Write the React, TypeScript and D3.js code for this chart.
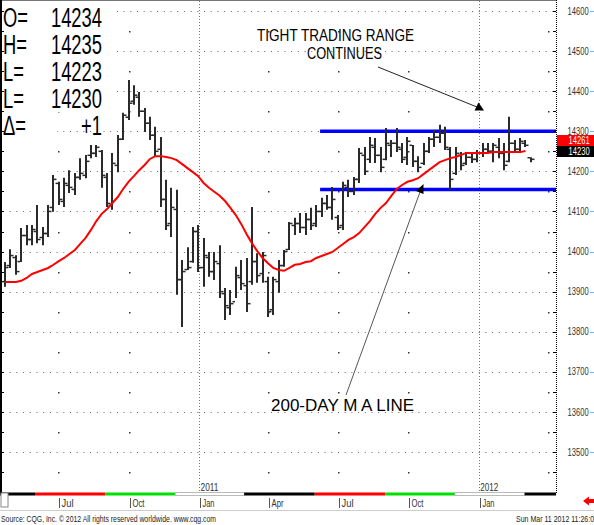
import React from 'react';
import * as d3 from 'd3';

const W = 594;
const H = 525;

// weekly bars starting Friday 2010-04-23, last one is the current (partial) week
const firstWeek = '2010-04-23';
const opens = [13925,13965,13985,13975,14040,14030,14050,14035,14045,14110,
14170,14125,14165,14155,14185,14190,14240,14245,14250,14185,
14115,14215,14280,14335,14375,14385,14350,14320,14290,14255,
14130,14070,14105,13930,13955,13975,14050,13960,13985,13950,
13970,13895,13860,13875,13935,13915,13925,13975,13945,13925,
13855,13925,13965,14005,14065,14070,14060,14080,14070,14100,
14120,14110,14085,14065,14160,14150,14180,14240,14230,14260,
14240,14230,14265,14270,14255,14235,14265,14225,14220,14250,
14280,14285,14295,14255,14195,14240,14220,14235,14230,14245,
14255,14250,14260,14245,14225,14270,14255,14270,14234];
const highs = [13974,14006,13991,14059,14066,14066,14116,14061,14116,14191,
14174,14184,14203,14196,14233,14241,14266,14266,14253,14196,
14246,14291,14346,14428,14415,14398,14358,14336,14311,14286,
14179,14159,14154,13979,14011,14061,14066,14034,13999,13999,
14016,13909,13904,13962,13979,13984,14111,13996,13999,13937,
13937,13979,14004,14074,14084,14096,14096,14109,14116,14134,
14141,14161,14091,14174,14179,14186,14258,14261,14286,14283,
14261,14308,14278,14308,14271,14286,14266,14238,14271,14286,
14303,14316,14311,14261,14261,14248,14248,14248,14253,14271,
14271,14271,14283,14271,14336,14278,14283,14278,14235];
const lows = [13912,13959,13942,13974,14016,14016,14021,14016,14036,14099,
14116,14111,14146,14141,14179,14183,14233,14236,14159,14111,
14104,14198,14278,14328,14366,14336,14298,14278,14236,14111,
14054,14036,13892,13812,13954,13972,13949,13912,13937,13929,
13884,13829,13842,13884,13904,13849,13917,13922,13922,13837,
13842,13897,13962,14004,14041,14046,14041,14054,14061,14086,
14104,14079,14054,14054,14136,14141,14171,14191,14221,14221,
14198,14228,14236,14248,14221,14216,14211,14198,14216,14246,
14261,14271,14253,14154,14191,14203,14216,14221,14223,14236,
14246,14223,14233,14203,14223,14246,14246,14261,14223];
const closes = [13960,13990,13950,14040,14030,14055,14030,14045,14100,14180,
14130,14170,14160,14185,14195,14225,14245,14260,14190,14120,
14220,14280,14340,14370,14390,14350,14320,14290,14250,14130,
14065,14110,13930,13950,13960,14050,13960,13990,13950,13975,
13900,13865,13870,13940,13920,13870,13975,13940,13990,13850,
13930,13965,14000,14070,14070,14060,14080,14065,14100,14120,
14110,14130,14060,14165,14150,14180,14245,14200,14265,14240,
14210,14270,14270,14260,14230,14275,14225,14210,14250,14280,
14285,14295,14260,14180,14245,14215,14235,14230,14245,14255,
14250,14265,14245,14215,14270,14255,14275,14265,14230];
const ma200 = [13924,13924,13924,13927,13934,13944,13949,13954,13959,13967,
13976,13984,13994,14004,14019,14034,14054,14076,14094,14106,
14121,14136,14156,14174,14188,14203,14216,14231,14238,14238,
14236,14233,14228,14218,14208,14198,14188,14171,14159,14149,
14139,14126,14109,14091,14069,14044,14021,14001,13984,13971,
13959,13954,13952,13959,13967,13969,13974,13976,13984,13989,
13994,13999,14009,14019,14029,14036,14046,14061,14076,14094,
14109,14121,14139,14156,14166,14174,14178,14183,14193,14203,
14213,14223,14228,14233,14236,14241,14246,14246,14246,14246,
14246,14248,14248,14248,14248,14248,14248,14251];

const quoteLabels = ['O=', 'H=', 'L=', 'L=', 'Δ='];
const quoteValues = ['14234', '14235', '14223', '14230', '+1'];

const priceTicks = [13500,13600,13700,13800,13900,14000,14100,14200,14300,14400,14500,14600];
const halfTicks = [13450,13550,13650,13750,13850,13950,14050,14150,14250,14350,14450,14550];

const quarterDates = ['2010-07-01','2010-10-01','2011-01-01','2011-04-01','2011-07-01','2011-10-01','2012-01-01'];
const quarterLabels = ['Jul','Oct','Jan','Apr','Jul','Oct','Jan'];
const yearDates = ['2011-01-01','2012-01-01'];
const yearLabels = ['2011','2012'];
const seasonStarts = ['2010-03-01','2010-06-01','2010-09-01','2010-12-01','2011-03-01','2011-06-01','2011-09-01','2011-12-01','2012-03-01','2012-06-01'];

const rangeStart = '2011-06-08';
const rangeLevels = [14300, 14155];
const maLastLabel = '14261';
const lastPriceLabel = '14230';

const parse = (s: string) => new Date(s + 'T00:00:00Z');

export default function App() {
  const x = d3.scaleUtc()
    .domain([parse('2011-01-01'), parse('2012-01-01')])
    .range([199, 478.7]);
  const y = d3.scaleLinear().domain([13500, 14600]).range([452, 11]);

  const left = 1, right = 556, top = 1, bottom = 493;
  const start = parse(firstWeek);
  const dates = opens.map((_, i) => d3.utcDay.offset(start, 7 * i));

  const maLine = d3.line<number>()
    .x((_, i) => x(dates[i]))
    .y((v) => y(v))(ma200);

  const font = "'Liberation Sans', Arial, sans-serif";
  const seasonFill = ['#000', '#ff0000', '#00e000', '#ffffff'];

  const yr = (v: number) => Math.round(y(v)) + 0.5;

  return (
    <svg width={W} height={H} style={{ position: 'absolute', left: 0, top: 0, background: '#fff' }}
      xmlns="http://www.w3.org/2000/svg">
      <rect x={0} y={0} width={W} height={H} fill="#fff" />
      {/* grid */}
      {priceTicks.map((v) => (
        <line key={'g' + v} x1={left + 2} x2={right} y1={yr(v)} y2={yr(v)}
          stroke="#666" strokeWidth={1} strokeDasharray="1,5.7" />
      ))}
      {yearDates.map((d) => (
        <line key={'v' + d} x1={Math.round(x(parse(d))) + 0.5} x2={Math.round(x(parse(d))) + 0.5}
          y1={top} y2={bottom} stroke="#777" strokeWidth={1} strokeDasharray="1,2" />
      ))}
      {quarterDates.filter((d) => !d.endsWith('01-01')).concat(['2012-04-01']).map((d) =>
        halfTicks.map((v) => (
          <rect key={'hd' + d + v} x={Math.round(x(parse(d)))} y={Math.round(y(v))} width={1.5} height={1.5} fill="#333" />
        ))
      )}
      {/* white quote box */}
      <rect x={0} y={0} width={117} height={112} fill="#fff" />
      <rect x={0} y={0} width={57} height={176} fill="#fff" />

      {/* range lines */}
      {rangeLevels.map((v) => (
        <line key={'r' + v} x1={x(parse(rangeStart))} x2={right} y1={y(v)} y2={y(v)}
          stroke="#0000ff" strokeWidth={3.5} />
      ))}

      {/* bars */}
      {dates.map((d, i) => {
        const xi = Math.round(x(d));
        return (
          <g key={'b' + i} stroke="#2a2a2a">
            <line x1={xi} x2={xi} y1={y(highs[i])} y2={y(lows[i])} strokeWidth={2} />
            <line x1={xi - 3.5} x2={xi - 1} y1={y(opens[i])} y2={y(opens[i])} strokeWidth={1.5} />
            <line x1={xi + 1} x2={xi + 3.5} y1={y(closes[i])} y2={y(closes[i])} strokeWidth={1.5} />
          </g>
        );
      })}

      {/* moving average */}
      <path d={maLine || ''} fill="none" stroke="#ff0000" strokeWidth={2} />

      {/* axes frame */}
      <line x1={0} x2={right + 1} y1={0.5} y2={0.5} stroke="#777" />
      <line x1={1} x2={1} y1={0} y2={bottom + 1} stroke="#000" strokeWidth={2} />
      {priceTicks.concat(halfTicks).map((v) => (
        <line key={'lt' + v} x1={2} x2={4} y1={yr(v)} y2={yr(v)} stroke="#000" />
      ))}
      <line x1={right + 0.5} x2={right + 0.5} y1={0} y2={bottom} stroke="#000" strokeDasharray="1,1" />
      {priceTicks.concat(halfTicks).map((v) => (
        <line key={'rt' + v} x1={right - 3} x2={right} y1={yr(v)} y2={yr(v)} stroke="#000" />
      ))}

      {/* right price labels */}
      {priceTicks.map((v) => (
        <g key={'pl' + v}>
          <g transform={`translate(567.5,${y(v) + 3.6}) scale(0.76,1)`}>
            <text x={0} y={0} fontFamily={font} fontSize={10} fill="#333">{String(v)}</text>
          </g>
          <line x1={590} x2={594} y1={yr(v)} y2={yr(v)} stroke="#7ab0ff" strokeWidth={1} />
        </g>
      ))}
      <rect x={557} y={135} width={37} height={11} fill="#ff0000" />
      <g transform="translate(568.5,144) scale(0.76,1)">
        <text x={0} y={0} fontFamily={font} fontSize={10} fill="#fff">{maLastLabel}</text>
      </g>
      <rect x={557} y={146} width={37} height={11} fill="#000" />
      <g transform="translate(568.5,155) scale(0.76,1)">
        <text x={0} y={0} fontFamily={font} fontSize={10} fill="#fff">{lastPriceLabel}</text>
      </g>

      {/* quote panel */}
      <g transform="scale(0.68,1)">
        {quoteLabels.map((l, i) => (
          <g key={'q' + i}>
            <text x={4.4} y={27 + i * 27} fontFamily={font} fontSize={27} fill="#000">{l}</text>
            <text x={150} y={27 + i * 27} fontFamily={font} fontSize={27} fill="#000" textAnchor="end">{quoteValues[i]}</text>
          </g>
        ))}
      </g>

      {/* season band */}
      {seasonStarts.slice(0, -1).map((s, i) => {
        const x0 = Math.max(0, x(parse(s)));
        const x1 = Math.min(right, x(parse(seasonStarts[i + 1])));
        if (x1 <= x0) return null;
        const f = seasonFill[i % 4];
        return (
          <rect key={'s' + s} x={x0} y={492.5} width={x1 - x0} height={3}
            fill={f} stroke={f === '#ffffff' ? '#aaa' : 'none'} strokeWidth={0.8} />
        );
      })}
      <rect x={1} y={493} width={7} height={14} fill="#fff" stroke="#888" strokeWidth={1} />

      {/* year labels */}
      {yearDates.map((d, i) => (
        <text key={'y' + d} x={x(parse(d)) + 1.5} y={491} fontFamily={font} fontSize={10} fill="#333"
          textLength={18} lengthAdjust="spacingAndGlyphs">{yearLabels[i]}</text>
      ))}
      {/* quarter labels */}
      {quarterDates.map((d, i) => {
        const xq = Math.round(x(parse(d))) + 1.5;
        return (
          <g key={'ql' + i}>
            <line x1={xq} x2={xq} y1={498} y2={508} stroke="#555" />
            <text x={xq + 2} y={507} fontFamily={font} fontSize={10.5} fill="#333"
              textLength={12} lengthAdjust="spacingAndGlyphs">{quarterLabels[i]}</text>
          </g>
        );
      })}

      {/* red scroll arrow */}
      <path d="M583,501 L589,496.5 L589,499 L594,499 L594,503 L589,503 L589,505.5 Z" fill="#ff0000" />

      {/* footer */}
      <line x1={0} x2={W} y1={510.5} y2={510.5} stroke="#ccc" />
      <text x={1} y={522} fontFamily={font} fontSize={9.5} fill="#222"
        textLength={215} lengthAdjust="spacingAndGlyphs">Source: CQG, Inc. © 2012 All rights reserved worldwide. www.cqg.com</text>
      <text x={516} y={522} fontFamily={font} fontSize={9.5} fill="#222"
        textLength={82} lengthAdjust="spacingAndGlyphs">Sun Mar 11 2012 11:26:04</text>

      {/* annotations */}
      <text x={257} y={41} fontFamily={font} fontSize={16} fill="#000"
        textLength={157} lengthAdjust="spacingAndGlyphs">TIGHT TRADING RANGE</text>
      <text x={307} y={59} fontFamily={font} fontSize={16} fill="#000"
        textLength={75} lengthAdjust="spacingAndGlyphs">CONTINUES</text>
      <line x1={378} y1={67} x2={477} y2={107} stroke="#222" strokeWidth={1} />
      <path d="M484,110.5 L474.5,110.5 L478.5,102.5 Z" fill="#000" />
      <text x={271} y={411} fontFamily={font} fontSize={16} fill="#000"
        textLength={143} lengthAdjust="spacingAndGlyphs">200-DAY M A  LINE</text>
      <line x1={346} y1={395} x2={420} y2={192} stroke="#555" strokeWidth={1} />
      <path d="M423.5,184 L423.5,194 L416,191 Z" fill="#000" />
    </svg>
  );
}
